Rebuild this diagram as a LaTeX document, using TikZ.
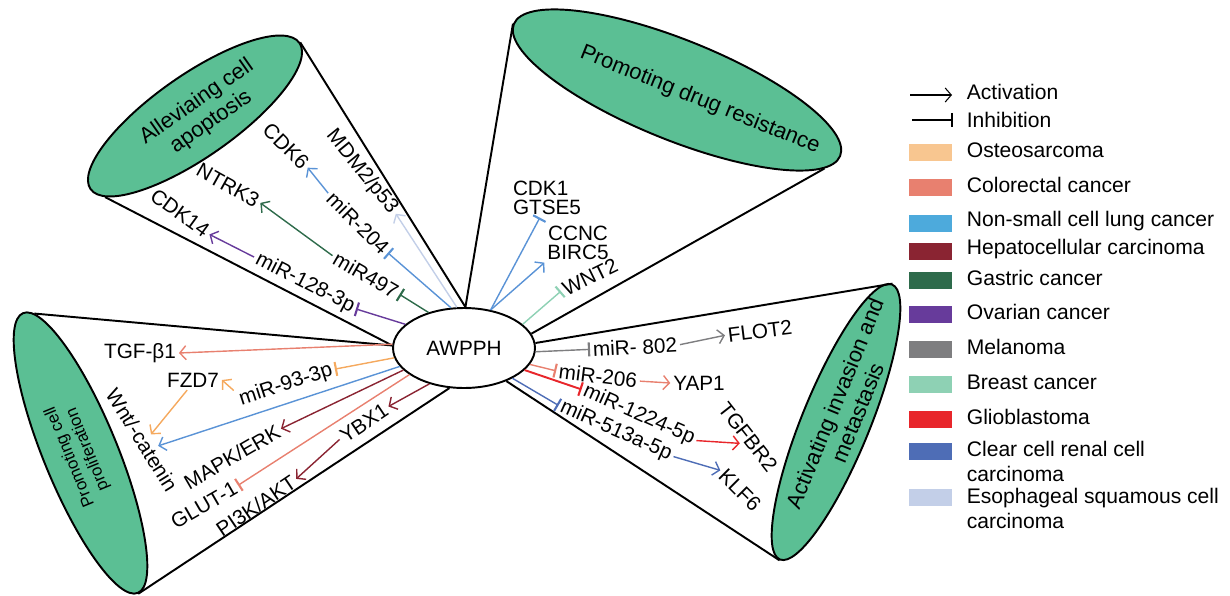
\documentclass[tikz,border=0pt]{standalone}
\usepackage{fontspec}
\setmainfont{Liberation Sans}
\usetikzlibrary{shapes.geometric,arrows.meta}
\definecolor{conegreen}{HTML}{5BBF94}
\definecolor{osteo}{HTML}{F5A95E}
\definecolor{osteobox}{HTML}{F8C690}
\definecolor{colorectal}{HTML}{E8806F}
\definecolor{nsclc}{HTML}{5A93D6}
\definecolor{nsclcbox}{HTML}{4DAADC}
\definecolor{hepato}{HTML}{8A2432}
\definecolor{gastric}{HTML}{2E6B4B}
\definecolor{ovarian}{HTML}{673B9B}
\definecolor{melanoma}{HTML}{7E7E80}
\definecolor{breast}{HTML}{8ED1B4}
\definecolor{glio}{HTML}{E8262B}
\definecolor{ccrcc}{HTML}{4E6DB6}
\definecolor{escc}{HTML}{C3CFE8}
\begin{document}
\begin{tikzpicture}[x=0.02cm, y=-0.02cm,
    lbl/.style={font=\fontsize{11.8}{10.6}\selectfont, inner sep=1.5pt},
    keytext/.style={font=\fontsize{12}{14.2}\selectfont, inner sep=2pt, anchor=west},
    rim/.style={line width=1.1pt},
    cone/.style={draw, ellipse, line width=1.1pt, fill=conegreen, inner sep=0pt},
    conetext/.style={font=\fontsize{12.5}{14}\selectfont, align=center},
    actarrow/.style={line width=0.8pt, -{Straight Barb[length=3.5pt,width=8pt]}},
    inhbar/.style={line width=0.8pt, -{Bar[width=8pt,line width=1.2pt]}}]
    \useasboundingbox (0,0) rectangle (1230,595);
    \node[draw, ellipse, line width=1.1pt, minimum width=2.84cm, minimum height=1.6cm,
        font=\fontsize{11.8}{13}\selectfont] (awpph) at (464,348) {AWPPH};
    \node[cone, rotate=35, minimum width=5.1cm, minimum height=1.64cm] (tl) at (195,116) {};
    \node[cone, rotate=-22, minimum width=7.04cm, minimum height=2cm] (tm) at (677,90) {};
    \node[cone, rotate=67.8, minimum width=5.94cm, minimum height=1.36cm] (rt) at (836,422) {};
    \node[cone, rotate=112.3, minimum width=6.05cm, minimum height=1.48cm] (lf) at (80.5,453) {};
    \node[conetext, rotate=35] (tltext) at (204,112) {Alleviaing cell\\apoptosis};
    \node[conetext, rotate=-22] (tmtext) at (700,100) {Promoting drug resistance};
    \node[conetext, rotate=67.8] (rttext) at (846,408) {Activating invasion and\\metastasis};
    \node[conetext, rotate=112.3, font=\fontsize{9.6}{11}\selectfont] (lftext) at (79,453) {Promoting cell\\proliferation};
    \draw[rim] (awpph.88) -- (tl.east);
    \draw[rim] (awpph.178) -- (tl.187);
    \draw[rim] (awpph.88) -- (tm.west);
    \draw[rim] (awpph.12) -- (tm.-6);
    \draw[rim] (awpph.4) -- (rt.east);
    \draw[rim] (awpph.-38) -- (rt.west);
    \draw[rim] (awpph.178) -- (lf.-4);
    \draw[rim] (awpph.-110) -- (lf.west);

    \node[lbl, rotate=-51] (mdm) at (362,172) {MDM2/p53};
    \node[lbl, rotate=-45] (cdk6) at (286,146) {CDK6};
    \node[lbl, rotate=-45] (mir204) at (358,223) {miR-204};
    \node[lbl, rotate=-29] (ntrk3) at (228,185) {NTRK3};
    \node[lbl, rotate=-30] (mir497) at (366,275) {miR497};
    \node[lbl, rotate=-36] (cdk14) at (180,213) {CDK14};
    \node[lbl, rotate=-27] (mir128) at (305,283) {miR-128-3p};
    \draw[actarrow, escc] (awpph.100) -- (mdm.east);
    \draw[inhbar, nsclc] (awpph.108) -- (mir204.east);
    \draw[actarrow, nsclc] (mir204.west) -- (cdk6.east);
    \draw[inhbar, gastric] (awpph.135) -- (mir497.east);
    \draw[actarrow, gastric] (mir497.west) -- (ntrk3.east);
    \draw[inhbar, ovarian] (awpph.158) -- (mir128.east);
    \draw[actarrow, ovarian] (mir128.west) -- (cdk14.east);

    \node[lbl, align=left] (cdk1) at (547,198) {CDK1\\GTSE5};
    \node[lbl, align=center] (ccnc) at (578,243) {CCNC\\BIRC5};
    \node[lbl, rotate=26] (wnt2) at (590,277) {WNT2};
    \draw[inhbar, nsclc] (awpph.55) -- (cdk1.250);
    \draw[actarrow, nsclc] (awpph.55) -- (ccnc.south west);
    \draw[inhbar, breast] (awpph.22) -- (wnt2.west);

    \node[lbl, rotate=3] (mir802) at (635,347) {miR- 802};
    \node[lbl, rotate=7] (flot2) at (760,331) {FLOT2};
    \node[lbl, rotate=-7] (mir206) at (598,376) {miR-206};
    \node[lbl] (yap1) at (699,383) {YAP1};
    \node[lbl, rotate=-24] (mir1224) at (639,415) {miR-1224-5p};
    \node[lbl, rotate=-52] (tgfbr2) at (748,437) {TGFBR2};
    \node[lbl, rotate=-24] (mir513) at (616,431) {miR-513a-5p};
    \node[lbl, rotate=-45] (klf6) at (740,490) {KLF6};
    \draw[inhbar, melanoma] (awpph.-3) -- (mir802.west);
    \draw[actarrow, melanoma] (mir802.east) -- (flot2.west);
    \draw[inhbar, colorectal] (awpph.-14) -- (mir206.west);
    \draw[actarrow, colorectal] (mir206.east) -- (yap1.west);
    \draw[inhbar, glio, line width=1.1pt] (awpph.-20) -- (mir1224.west);
    \draw[actarrow, glio] (mir1224.east) -- (tgfbr2.south);
    \draw[inhbar, ccrcc] (awpph.-32) -- (mir513.west);
    \draw[actarrow, ccrcc] (mir513.east) -- (klf6.west);

    \node[lbl] (tgfb) at (140,353) {TGF-β1};
    \node[lbl] (fzd7) at (193,380) {FZD7};
    \node[lbl, rotate=18] (mir93) at (286,385) {miR-93-3p};
    \node[lbl, rotate=-58] (wnt) at (142,440) {Wnt/-catenin};
    \node[lbl, rotate=30] (mapk) at (232,457) {MAPK/ERK};
    \node[lbl, rotate=30] (glut) at (204,505) {GLUT-1};
    \node[lbl, rotate=34] (ybx1) at (364,423) {YBX1};
    \node[lbl, rotate=34] (pik) at (256,506) {PI3K/AKT};
    \draw[actarrow, colorectal] (awpph.177) -- (tgfb.east);
    \draw[inhbar, osteo] (awpph.188) -- (mir93.east);
    \draw[actarrow, osteo] (mir93.168) -- (fzd7.east);
    \draw[actarrow, osteo] (fzd7.240) -- (wnt.north);
    \draw[actarrow, nsclc] (awpph.196) -- (wnt.38);
    \draw[actarrow, hepato] (awpph.200) -- (mapk.east);
    \draw[inhbar, colorectal] (awpph.206) -- (glut.east);
    \draw[actarrow, hepato] (awpph.226) -- (ybx1.east);
    \draw[actarrow, hepato] (ybx1.west) -- (pik.east);

    \node[keytext] (keyact) at (963,92) {Activation};
    \node[keytext] (keyinh) at (963,120) {Inhibition};
    \draw[actarrow, line width=0.6pt] (910,95) -- (952,95);
    \draw[inhbar, line width=0.8pt] (912,120) -- (953,120);
    \foreach \ky/\kc/\kn in {150/osteobox/Osteosarcoma, 185/colorectal/Colorectal cancer,
        221/nsclcbox/Non-small cell lung cancer, 249/hepato/Hepatocellular carcinoma,
        278/gastric/Gastric cancer, 312/ovarian/Ovarian cancer, 347/melanoma/Melanoma,
        382/breast/Breast cancer, 417/glio/Glioblastoma} {
        \fill[\kc] (909,\ky-6.5) rectangle (952,\ky+10.5);
        \node[keytext] (key\kc) at (963,\ky) {\kn};
    }
    \fill[ccrcc] (909,443) rectangle (952,460);
    \node[keytext, anchor=north west, align=left] (keyccrcc) at (963,437) {Clear cell renal cell\\carcinoma};
    \fill[escc] (909,489) rectangle (952,506);
    \node[keytext, anchor=north west, align=left] (keyescc) at (963,484) {Esophageal squamous cell\\carcinoma};
\end{tikzpicture}
\end{document}
